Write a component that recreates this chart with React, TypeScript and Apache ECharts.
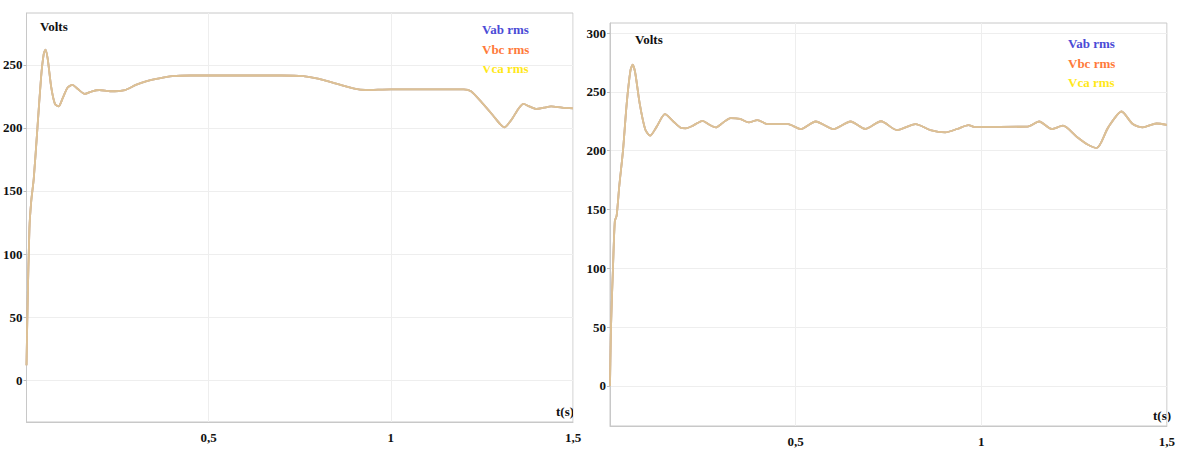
import React, { useEffect, useRef } from "react";
import * as echarts from "echarts";

// Left panel: time (s) and RMS voltage (V)
const leftTime = [0, 0.003, 0.008, 0.013, 0.02, 0.03, 0.04, 0.047, 0.052, 0.058, 0.068, 0.078, 0.088, 0.1, 0.113, 0.126, 0.14, 0.16, 0.18, 0.2, 0.23, 0.27, 0.3, 0.33, 0.36, 0.4, 0.45, 0.5, 0.6, 0.7, 0.76, 0.8, 0.85, 0.9, 0.93, 1.0, 1.1, 1.2, 1.22, 1.25, 1.28, 1.3, 1.312, 1.33, 1.35, 1.364, 1.38, 1.4, 1.42, 1.44, 1.47, 1.5];
const leftVolts = [12, 60, 120, 142, 160, 200, 240, 258, 262, 255, 232, 219, 217, 224, 232, 234, 231, 227, 229, 230, 229, 230, 234, 237, 239, 241, 241.5, 241.5, 241.5, 241.5, 241, 239, 235, 231, 230, 230.5, 230.5, 230.5, 229, 220, 210, 203, 200.5, 206, 215, 219, 217, 215, 216, 217, 216, 215.5];

// Right panel
const rightTime = [0, 0.002, 0.004, 0.008, 0.013, 0.018, 0.025, 0.035, 0.045, 0.055, 0.061, 0.068, 0.08, 0.095, 0.108, 0.125, 0.148, 0.17, 0.19, 0.204, 0.225, 0.249, 0.268, 0.285, 0.305, 0.325, 0.35, 0.374, 0.397, 0.424, 0.46, 0.48, 0.514, 0.554, 0.602, 0.648, 0.688, 0.73, 0.773, 0.823, 0.863, 0.903, 0.935, 0.966, 0.98, 1.05, 1.125, 1.156, 1.19, 1.22, 1.257, 1.284, 1.311, 1.342, 1.378, 1.408, 1.435, 1.472, 1.5];
const rightVolts = [0, 40, 64, 100, 140, 145, 170, 200, 240, 268, 273, 266, 240, 218, 212.7, 220, 231, 225, 219.5, 219, 221.5, 225.4, 222, 219.8, 224, 227.7, 227, 224, 226, 222.6, 222.6, 222.5, 218.4, 224.8, 218.4, 224.8, 218.4, 225, 217.5, 222.6, 217.5, 215.5, 218.4, 221.7, 220.3, 220.3, 220.5, 224.8, 218.4, 221.2, 211.9, 205.7, 202.3, 219.8, 233.3, 222.6, 219.8, 223.1, 222];

const seriesNames = ["Vab rms", "Vbc rms", "Vca rms"];
const seriesColors = ["#4b4bd6", "#ff7a3a", "#ffe81a"];
const lineColors = ["#9fb0d8", "#e8b684", "#dcc196"];
const yTicks = [0, 50, 100, 150, 200, 250];
const yTicksRight = [0, 50, 100, 150, 200, 250, 300];

const FONT = "Liberation Serif";

export default function App() {
  const ref = useRef<HTMLDivElement>(null);
  useEffect(() => {
    if (!ref.current) return;
    const chart = echarts.init(ref.current, undefined, { renderer: "svg" });
    const zip = (t: number[], v: number[]) => t.map((x, i) => [x, v[i]]);
    const leftData = zip(leftTime, leftVolts);
    const rightData = zip(rightTime, rightVolts);
    const labelStyle = { fontFamily: FONT, fontWeight: "bold" as const, fontSize: 13, color: "#111" };
    const grids = [
      { left: 26, top: 13, width: 547, height: 409 },
      { left: 610, top: 23, width: 558, height: 403 },
    ];
    const xAxes = grids.map((_, i) => ({
      type: "value",
      gridIndex: i,
      min: 0,
      max: 1.5,
      interval: 0.5,
      axisLine: { onZero: false, lineStyle: { color: "#c8c8c8" } },
      axisTick: { show: false },
      axisLabel: {
        ...labelStyle,
        margin: 9,
        formatter: (v: number) => (v === 0 ? "" : String(v).replace(".", ",")),
      },
      splitLine: { show: true, lineStyle: { color: "#eeeeee" } },
    }));
    const yAxes = [
      { min: -33, max: 291, ticks: yTicks },
      { min: -34, max: 308.5, ticks: yTicksRight },
    ].map((a, i) => ({
      type: "value",
      gridIndex: i,
      min: a.min,
      max: a.max,
      axisLine: { show: true, onZero: false, lineStyle: { color: "#c8c8c8" } },
      axisTick: { show: true, length: 3, customValues: a.ticks, lineStyle: { color: "#bbbbbb" } },
      axisLabel: { ...labelStyle, margin: 4, customValues: a.ticks },
      splitLine: { show: true, lineStyle: { color: "#eeeeee" } },
    }));
    const series: any[] = [];
    [leftData, rightData].forEach((d, gi) => {
      seriesNames.forEach((name, si) => {
        series.push({
          type: "line",
          name,
          xAxisIndex: gi,
          yAxisIndex: gi,
          data: d,
          smooth: 0.25,
          symbol: "none",
          lineStyle: { color: lineColors[si], width: 1.8 },
          itemStyle: { color: seriesColors[si] },
        });
      });
    });
    const legendTexts: any[] = [];
    const legendPos = [
      { x: 482, y: 23 },
      { x: 1068, y: 37 },
    ];
    legendPos.forEach((p) => {
      seriesNames.forEach((name, si) => {
        legendTexts.push({
          type: "text",
          left: p.x,
          top: p.y + si * 19.5,
          style: { text: name, fill: seriesColors[si], font: `bold 13px "${FONT}"` },
        });
      });
    });
    chart.setOption({
      animation: false,
      backgroundColor: "#ffffff",
      grid: grids.map((g) => ({ ...g, show: true, borderColor: "#c8c8c8", borderWidth: 1 })),
      xAxis: xAxes,
      yAxis: yAxes,
      series,
      graphic: [
        { type: "text", left: 40, top: 20, style: { text: "Volts", fill: "#111", font: `bold 13px "${FONT}"` } },
        { type: "text", left: 635, top: 33, style: { text: "Volts", fill: "#111", font: `bold 13px "${FONT}"` } },
        { type: "text", left: 556, top: 405, style: { text: "t(s)", fill: "#111", font: `bold 13px "${FONT}"` } },
        { type: "text", left: 1153, top: 409, style: { text: "t(s)", fill: "#111", font: `bold 13px "${FONT}"` } },
        ...legendTexts,
      ],
    });
    return () => chart.dispose();
  }, []);
  return <div ref={ref} style={{ position: "absolute", left: 0, top: 0, width: 1178, height: 450 }} />;
}
